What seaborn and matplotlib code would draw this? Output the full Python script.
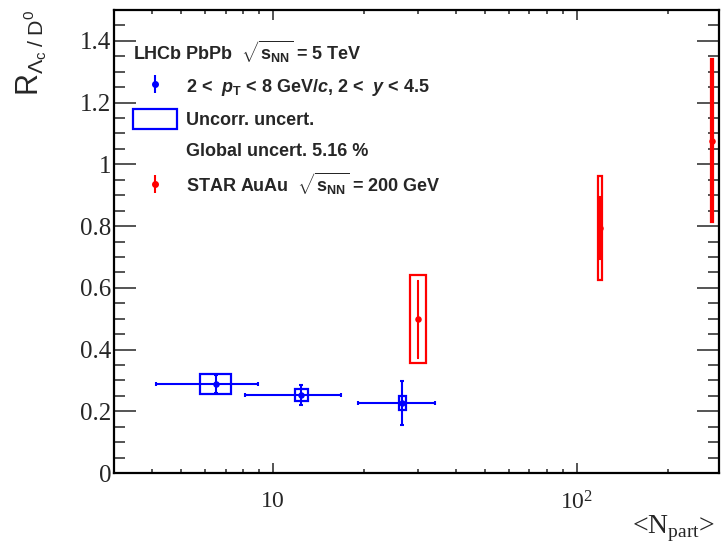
import numpy as np
import pandas as pd
import seaborn as sns
import matplotlib
matplotlib.use("Agg")
import matplotlib.pyplot as plt
from matplotlib import patches
from matplotlib.ticker import FixedLocator, FixedFormatter, MultipleLocator, LogLocator, NullFormatter

# LHCb PbPb points
npart_lhcb = [6.51, 12.4, 26.6]
npart_lhcb_lo = [4.13, 8.1, 19.1]
npart_lhcb_hi = [8.93, 16.8, 34.2]
box_lhcb_xlo = [5.76, 11.8, 25.95]
box_lhcb_xhi = [7.28, 13.1, 27.35]
ratio_lhcb = [0.288, 0.253, 0.228]
stat_lhcb_lo = [0.258, 0.220, 0.155]
stat_lhcb_hi = [0.318, 0.285, 0.298]
syst_lhcb_lo = [0.255, 0.232, 0.204]
syst_lhcb_hi = [0.321, 0.272, 0.251]

# STAR AuAu points
npart_star = [30.1, 119.3, 278.6]
box_star_xlo = [28.2, 117.6, 276.8]
box_star_xhi = [32.0, 121.1, 280.4]
ratio_star = [0.498, 0.795, 1.075]
stat_star_lo = [0.373, 0.692, 0.92]
stat_star_hi = [0.623, 0.895, 1.23]
syst_star_lo = [0.355, 0.625, 0.812]
syst_star_hi = [0.643, 0.961, 1.340]

BLUE = "#0000ff"
RED = "#ff0000"

sns.set_style("white")
plt.rcParams["font.family"] = ["Liberation Sans", "DejaVu Sans"]
plt.rcParams["mathtext.fontset"] = "custom"
plt.rcParams["mathtext.rm"] = "Liberation Sans"
plt.rcParams["mathtext.it"] = "Liberation Sans:italic"
plt.rcParams["mathtext.bf"] = "Liberation Sans:bold"
plt.rcParams["mathtext.bfit"] = "Liberation Sans:bold:italic"

df_lhcb = pd.DataFrame({"npart": npart_lhcb, "ratio": ratio_lhcb})
df_star = pd.DataFrame({"npart": npart_star, "ratio": ratio_star})

fig = plt.figure(figsize=(7.21, 5.49), dpi=100)
ax = fig.add_axes([0.158, 0.1384, 0.839, 0.8434])
ax.set_xscale("log")
ax.set_xlim(3.0, 294)
ax.set_ylim(0, 1.5)

# uncorrelated uncertainty boxes
for xlo, xhi, ylo, yhi in zip(box_lhcb_xlo, box_lhcb_xhi, syst_lhcb_lo, syst_lhcb_hi):
    ax.add_patch(patches.Rectangle((xlo, ylo), xhi - xlo, yhi - ylo, fill=False,
                                   edgecolor=BLUE, lw=1.6, zorder=3))
for xlo, xhi, ylo, yhi in zip(box_star_xlo, box_star_xhi, syst_star_lo, syst_star_hi):
    ax.add_patch(patches.Rectangle((xlo, ylo), xhi - xlo, yhi - ylo, fill=False,
                                   edgecolor=RED, lw=1.6, zorder=3))

# error bars
x = np.array(npart_lhcb)
y = np.array(ratio_lhcb)
xerr = [x - np.array(npart_lhcb_lo), np.array(npart_lhcb_hi) - x]
yerr = [y - np.array(stat_lhcb_lo), np.array(stat_lhcb_hi) - y]
ax.errorbar(x, y, xerr=xerr, yerr=yerr, fmt="none", ecolor=BLUE, elinewidth=1.5,
            capsize=1.3, capthick=1.5, zorder=4)

xs = np.array(npart_star)
ys = np.array(ratio_star)
yerr_s = [ys - np.array(stat_star_lo), np.array(stat_star_hi) - ys]
ax.errorbar(xs, ys, yerr=yerr_s, fmt="none", ecolor=RED, elinewidth=1.5,
            capsize=1.0, capthick=1.5, zorder=4)

sns.scatterplot(data=df_lhcb, x="npart", y="ratio", color=BLUE, s=22, linewidth=0,
                ax=ax, zorder=5)
sns.scatterplot(data=df_star, x="npart", y="ratio", color=RED, s=22, linewidth=0,
                ax=ax, zorder=5)

# axes styling (ROOT look)
for s in ax.spines.values():
    s.set_linewidth(1.6)
    s.set_color("black")

ax.xaxis.set_major_locator(FixedLocator([10, 100]))
ax.xaxis.set_major_formatter(FixedFormatter([r"$\mathregular{10}$", r"$\mathregular{10^{2}}$"]))
ax.xaxis.set_minor_locator(LogLocator(base=10, subs=np.arange(2, 10), numticks=20))
ax.xaxis.set_minor_formatter(NullFormatter())
ax.yaxis.set_major_locator(MultipleLocator(0.2))
ax.yaxis.set_minor_locator(MultipleLocator(0.05))
ax.yaxis.set_major_formatter(matplotlib.ticker.FuncFormatter(lambda v, p: f"{v:g}"))

ax.tick_params(axis="x", which="major", direction="in", length=7.2, width=1.1,
               top=True, bottom=True, pad=13)
ax.tick_params(axis="x", which="minor", direction="in", length=3.2, width=1.1,
               top=True, bottom=True)
ax.tick_params(axis="y", which="major", direction="in", length=15.8, width=1.1,
               left=True, right=True, pad=2)
ax.tick_params(axis="y", which="minor", direction="in", length=7.9, width=1.1,
               left=True, right=True)
for lab in ax.get_xticklabels():
    lab.set_fontfamily("Liberation Serif")
    lab.set_fontsize(17)
for lab in ax.get_yticklabels():
    lab.set_fontfamily("Liberation Serif")
    lab.set_fontsize(18)

ax.set_xlabel(r"<N$_{\mathregular{part}}$>", fontfamily="Liberation Serif", fontsize=20)
ax.xaxis.set_label_coords(0.994, -0.088)
ax.xaxis.label.set_horizontalalignment("right")
ax.set_ylabel(r"$\mathregular{R_{\Lambda_{c}\;/\;D^{0}}}$",
              fontfamily="Liberation Sans", fontsize=22)
ax.yaxis.set_label_coords(-0.108, 1.0)
ax.yaxis.label.set_horizontalalignment("right")

# legend
h_lhcb = ax.errorbar([], [], yerr=[], fmt="o", color=BLUE, ms=4, elinewidth=1.5,
                     capsize=5, capthick=1.5)
h_box = patches.Rectangle((0, 0), 1, 1, fill=False, edgecolor=BLUE, lw=1.6)
h_blank = patches.Rectangle((0, 0), 1, 1, fill=False, edgecolor="none")
h_star = ax.errorbar([], [], yerr=[], fmt="o", color=RED, ms=4, elinewidth=1.5,
                     capsize=5, capthick=1.5)
labels = [r"2 <  $\mathbfit{p}_{\mathbf{T}}$ < 8 GeV/$\mathbfit{c}$, 2 <  $\mathbfit{y}$ < 4.5",
          "Uncorr. uncert.",
          "Global uncert. 5.16 %",
          r"STAR AuAu  $\sqrt{\mathbf{s}_{\mathbf{NN}}}$ = 200 GeV"]
leg = ax.legend([h_lhcb, h_box, h_blank, h_star], labels,
                title=r"LHCb PbPb  $\sqrt{\mathbf{s}_{\mathbf{NN}}}$ = 5 TeV",
                loc="upper left", bbox_to_anchor=(0.01, 0.966), frameon=False,
                prop={"weight": "bold", "size": 13},
                title_fontproperties={"weight": "bold", "size": 13},
                alignment="left", handlelength=2.45, handleheight=1.3,
                handletextpad=0.5, labelspacing=0.62, borderpad=0.2)

fig.savefig("out.png", dpi=100)
